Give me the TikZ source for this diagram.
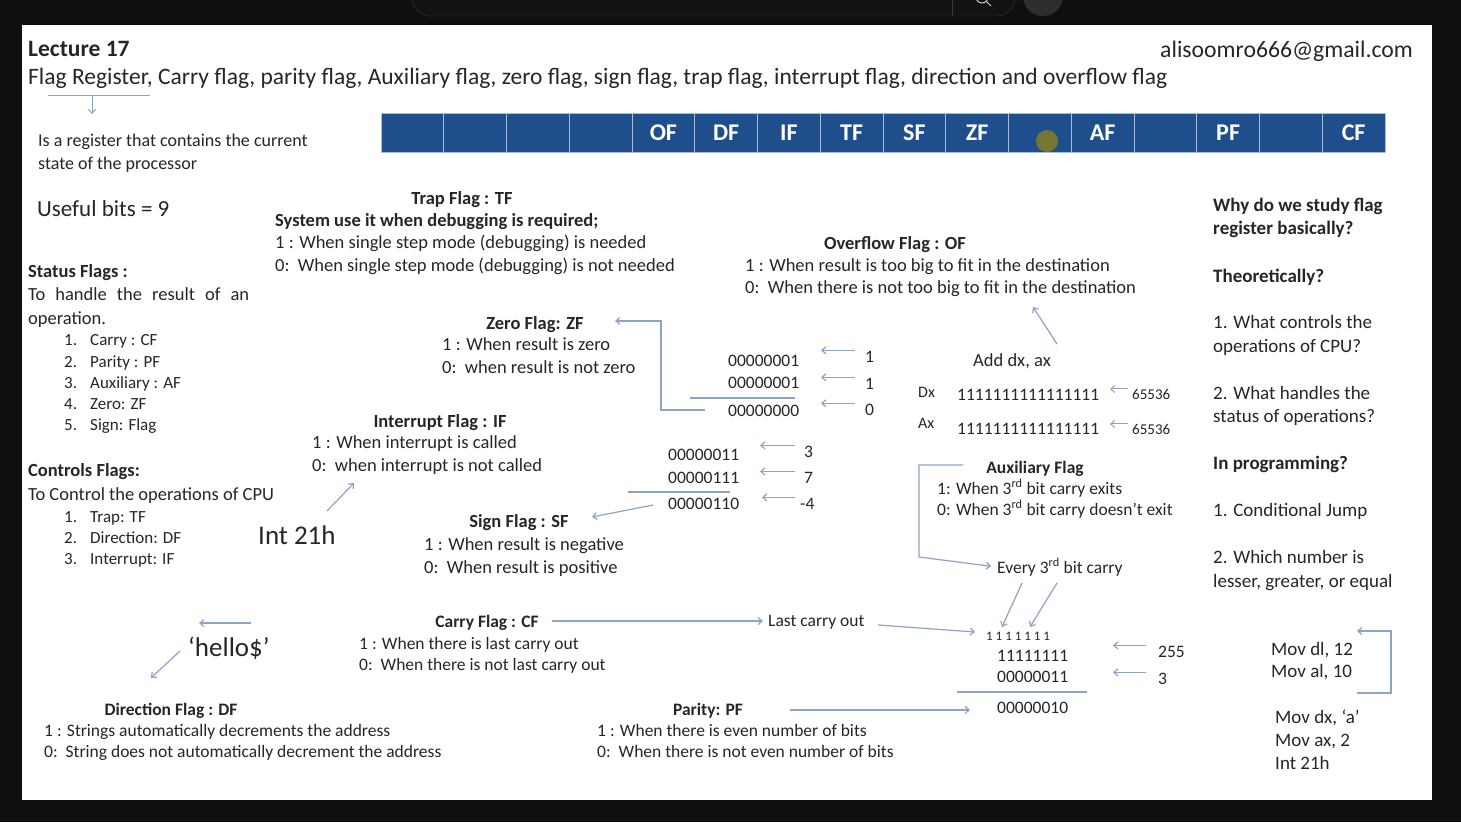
\documentclass[tikz,border=0pt]{standalone}
\usepackage{fontspec}
\setmainfont{Carlito}
\usetikzlibrary{arrows.meta}
\definecolor{ink}{HTML}{262626}
\definecolor{regblue}{HTML}{1F4E8C}
\definecolor{regline}{HTML}{A9BCDB}
\definecolor{arrowc}{HTML}{8EA3C6}
\definecolor{frame}{HTML}{0F0F0F}
\newcommand\fsz[1]{\fontsize{#1}{#1}\selectfont}
\tikzset{
  body/.style={inner sep=0pt, anchor=base west, text=ink, font=\fsz{18.5}},
  lower/.style={body, font=\fsz{17.5}},
  bits/.style={body, font=\fsz{17.5}},
  bhead/.style={body, font=\fsz{18.5}\bfseries},
  chead/.style={body, anchor=base, font=\fsz{18.5}\bfseries},
  rcol/.style={body, font=\fsz{19}},
  regcell/.style={draw=regline, line width=0.8pt, fill=regblue, minimum width=62.75pt,
    minimum height=39pt, inner sep=0pt, text=white, font=\fsz{24}\bfseries},
  conn/.style={draw=arrowc, line width=1.2pt, -{Straight Barb[length=4pt,width=7pt]}},
  plainline/.style={draw=arrowc, line width=1.2pt},
}
\begin{document}
\begin{tikzpicture}[x=1pt, y=-1pt]
\useasboundingbox (0,0) rectangle (1461,822);
% screen frame and slide
\fill[frame] (0,0) rectangle (1461,822);
\fill[white] (22,25) rectangle (1432,800);
% search bar above the slide
\draw[fill=black!93, draw=black!78, rounded corners=18pt] (412,-40) rectangle (1015,16);
\draw[black!78] (952,-40) -- (952,16);
\draw[white!80!black, line width=1pt] (982,-3) circle (6) (986,1) -- (991,6);
\fill[black!82] (1043,-4) circle (20);

% header
\node[bhead, font=\fsz{23.5}\bfseries] (lecture) at (28,56) {Lecture 17};
\node[body, anchor=base east, font=\fsz{23.7}] (email) at (1413,57) {alisoomro666@gmail.com};
\node[body, font=\fsz{23.5}] (title) at (28,84) {Flag Register, Carry flag, parity flag, Auxiliary flag, zero flag, sign flag, trap flag, interrupt flag, direction and overflow flag};
\coordinate (ul-a) at (48,95);
\coordinate (ul-b) at (150,95);
\coordinate (ul-c) at (92,96);
\coordinate (ul-d) at (92,114);
\draw[plainline, line width=1pt] (ul-a) -- (ul-b);
\draw[conn, line width=1pt] (ul-c) -- (ul-d);

% flag register
\foreach \lab [count=\i from 0] in {{},{},{},{},OF,DF,IF,TF,SF,ZF,{},AF,{},PF,{},CF}{
  \node[regcell] (cell\i) at ({381+62.75*\i+31.375},132.5) {\lab};
}
\fill[olive!75!black!90, opacity=0.9] (1047,141) circle (11);

% left column
\node[body, font=\fsz{18}] (def1) at (38,146) {Is a register that contains the current};
\node[body, font=\fsz{18}] (def2) at (38,169) {state of the processor};
\node[body, font=\fsz{23}] (useful) at (37,216) {Useful bits = 9};
\node[bhead] (status) at (28,277) {Status Flags :};
\node[body] (status1) at (28,300) {\makebox[221pt][s]{To handle the result of an}};
\node[body] (status2) at (28,324) {operation.};
\foreach \n/\t/\yy in {1/{Carry : CF}/345, 2/{Parity : PF}/367, 3/{Auxiliary : AF}/388, 4/{Zero: ZF}/409, 5/{Sign: Flag}/430}{
  \node[body, font=\fsz{17}] (sn\n) at (64,\yy) {\n.};
  \node[body, font=\fsz{17}] (st\n) at (90,\yy) {\t};
}
\node[bhead] (controls) at (28,476) {Controls Flags:};
\node[body] (controls1) at (28,500) {To Control the operations of CPU};
\foreach \n/\t/\yy in {1/{Trap: TF}/522, 2/{Direction: DF}/543, 3/{Interrupt: IF}/564}{
  \node[body, font=\fsz{17}] (cn\n) at (64,\yy) {\n.};
  \node[body, font=\fsz{17}] (ct\n) at (90,\yy) {\t};
}
\node[body, font=\fsz{27}] (int21) at (258,544) {Int 21h};
\coordinate (int-a) at (327,511);
\coordinate (int-b) at (354,483);
\draw[conn] (int-a) -- (int-b);
\node[body, font=\fsz{27}] (hello) at (188,656) {‘hello\$’};
\coordinate (hel-a) at (251,623);
\coordinate (hel-b) at (199,623);
\coordinate (hel-c) at (180,651);
\coordinate (hel-d) at (151,678);
\draw[conn] (hel-a) -- (hel-b);
\draw[conn] (hel-c) -- (hel-d);
\node[chead, font=\fsz{17.5}\bfseries] (dfhead) at (171,715) {Direction Flag : DF};
\node[lower] (df1) at (44,736) {1 : Strings automatically decrements the address};
\node[lower] (df0) at (44,757) {0:\ \ String does not automatically decrement the address};

% trap flag
\node[chead] (tfhead) at (462,204) {Trap Flag : TF};
\node[bhead] (tfsys) at (275,226) {System use it when debugging is required;};
\node[body] (tf1) at (275,248) {1 : When single step mode (debugging) is needed};
\node[body] (tf0) at (275,271) {0:\ \ When single step mode (debugging) is not needed};

% zero flag
\node[chead] (zfhead) at (535,329) {Zero Flag: ZF};
\node[body] (zf1) at (442,350) {1 : When result is zero};
\node[body] (zf0) at (442,373) {0:\ \ when result is not zero};
\node[bits] (za) at (728,366) {00000001};
\node[bits] (zb) at (728,388) {00000001};
\node[bits] (zr) at (728,416) {00000000};
\node[bits] (zav) at (865,362) {1};
\node[bits] (zbv) at (865,389) {1};
\node[bits] (zrv) at (865,415) {0};
\draw[conn] (zav.west) ++(-10,-6) coordinate (zav-t) -- ++(-34,0);
\draw[conn] (zbv.west) ++(-10,-6) coordinate (zbv-t) -- ++(-34,0);
\draw[conn] (zrv.west) ++(-10,-6) coordinate (zrv-t) -- ++(-34,0);
\coordinate (zsep-a) at (690,398);
\coordinate (zsep-b) at (795,398);
\draw[plainline] (zsep-a) -- (zsep-b);
\coordinate (zbr-a) at (705,410);
\coordinate (zbr-b) at (615,321);
\draw[conn] (zbr-a) -- (661,410) -- (661,321) -- (zbr-b);

% interrupt flag
\node[chead] (ifhead) at (440,427) {Interrupt Flag : IF};
\node[body] (if1) at (312,448) {1 : When interrupt is called};
\node[body] (if0) at (312,471) {0:\ \ when interrupt is not called};

% sign flag
\node[bits] (sa) at (668,460) {00000011};
\node[bits] (sb) at (668,483) {00000111};
\node[bits] (sr) at (668,509) {00000110};
\node[bits] (sav) at (804,457) {3};
\node[bits] (sbv) at (804,483) {7};
\node[bits] (srv) at (800,509) {-4};
\draw[conn] (sav.west) ++(-9,-6) -- ++(-35,0);
\draw[conn] (sbv.west) ++(-9,-6) -- ++(-35,0);
\draw[conn] (srv.west) ++(-5,-6) -- ++(-33,0);
\coordinate (ssep-a) at (628,492);
\coordinate (ssep-b) at (730,492);
\draw[plainline] (ssep-a) -- (ssep-b);
\coordinate (sf-a) at (653,505);
\coordinate (sf-b) at (592,517);
\draw[conn] (sf-a) -- (sf-b);
\node[chead] (sfhead) at (519,527) {Sign Flag : SF};
\node[body] (sf1) at (424,550) {1 : When result is negative};
\node[body] (sf0) at (424,573) {0:\ \ When result is positive};

% overflow flag
\node[chead] (ofhead) at (895,249) {Overflow Flag : OF};
\node[body] (of1) at (745,271) {1 : When result is too big to fit in the destination};
\node[body] (of0) at (745,293) {0:\ \ When there is not too big to fit in the destination};
\coordinate (of-a) at (1057,344);
\coordinate (of-b) at (1033,307);
\draw[conn] (of-a) -- (of-b);
\node[body] (adddx) at (973,366) {Add dx, ax};
\node[body, font=\fsz{16}] (dxl) at (918,397) {Dx};
\node[bits] (dxv) at (957,400) {1111111111111111};
\node[body, font=\fsz{15}] (dxn) at (1132,399) {65536};
\node[body, font=\fsz{16}] (axl) at (918,428) {Ax};
\node[bits] (axv) at (957,434) {1111111111111111};
\node[body, font=\fsz{15}] (axn) at (1132,434) {65536};
\draw[conn, line width=1pt] (dxn.west) ++(-4,-5) -- ++(-18,0);
\draw[conn, line width=1pt] (axn.west) ++(-4,-5) -- ++(-18,0);

% auxiliary flag
\node[chead, font=\fsz{17.5}\bfseries] (afhead) at (1035,473) {Auxiliary Flag};
\node[lower] (af1) at (937,494) {1: When 3\textsuperscript{rd} bit carry exits};
\node[lower] (af0) at (937,515) {0: When 3\textsuperscript{rd} bit carry doesn’t exit};
\node[lower] (every) at (997,573) {Every 3\textsuperscript{rd} bit carry};
\coordinate (afbr-a) at (963,465);
\draw[conn, shorten >=6pt] (afbr-a) -- (919,465) -- (919,557) -- (every.west);
\coordinate (ev-a) at (1022,583);
\coordinate (ev-b) at (1002,627);
\coordinate (ev-c) at (1057,583);
\coordinate (ev-d) at (1030,627);
\draw[conn] (ev-a) -- (ev-b);
\draw[conn] (ev-c) -- (ev-d);

% carry example
\node[body, font=\fsz{13}] (carries) at (986,640) {1 1 1 1 1 1 1};
\node[bits] (ca) at (997,661) {11111111};
\node[bits] (cb) at (997,682) {00000011};
\node[bits] (cr) at (997,713) {00000010};
\node[bits] (cav) at (1158,657) {255};
\node[bits] (cbv) at (1158,684) {3};
\draw[conn] (cav.west) ++(-12,-6) -- ++(-33,0);
\draw[conn] (cbv.west) ++(-12,-6) -- ++(-33,0);
\coordinate (csep-a) at (957,692);
\coordinate (csep-b) at (1087,692);
\draw[plainline] (csep-a) -- (csep-b);

% carry flag
\node[chead, font=\fsz{17.5}\bfseries] (cfhead) at (487,627) {Carry Flag : CF};
\node[lower] (cf1) at (359,649) {1 : When there is last carry out};
\node[lower] (cf0) at (359,670) {0:\ \ When there is not last carry out};
\node[lower] (lastco) at (768,626) {Last carry out};
\coordinate (cf-a) at (552,621);
\draw[conn, shorten >=5pt] (cf-a) -- (lastco.west |- cf-a);
\coordinate (lc-a) at (878,625);
\coordinate (lc-b) at (975,632);
\draw[conn] (lc-a) -- (lc-b);

% parity flag
\node[chead, font=\fsz{17.5}\bfseries] (pfhead) at (708,715) {Parity: PF};
\node[lower] (pf1) at (597,736) {1 : When there is even number of bits};
\node[lower] (pf0) at (597,757) {0:\ \ When there is not even number of bits};
\coordinate (pf-a) at (790,710);
\coordinate (pf-b) at (970,710);
\draw[conn] (pf-a) -- (pf-b);

% right column
\node[rcol, font=\fsz{19}\bfseries] (why1) at (1213,211) {Why do we study flag};
\node[rcol, font=\fsz{19}\bfseries] (why2) at (1213,234) {register basically?};
\node[rcol, font=\fsz{19}\bfseries] (theo) at (1213,282) {Theoretically?};
\node[rcol] (q1a) at (1213,328) {1. What controls the};
\node[rcol] (q1b) at (1213,352) {operations of CPU?};
\node[rcol] (q2a) at (1213,399) {2. What handles the};
\node[rcol] (q2b) at (1213,422) {status of operations?};
\node[rcol, font=\fsz{19}\bfseries] (prog) at (1213,469) {In programming?};
\node[rcol] (p1) at (1213,516) {1. Conditional Jump};
\node[rcol] (p2a) at (1213,563) {2. Which number is};
\node[rcol] (p2b) at (1213,587) {lesser, greater, or equal};
\node[rcol] (movdl) at (1271,655) {Mov dl, 12};
\node[rcol] (moval) at (1271,677) {Mov al, 10};
\coordinate (mv-a) at (1357,693);
\coordinate (mv-b) at (1357,631);
\draw[conn] (mv-a) -- (1391,693) -- (1391,631) -- (mv-b);
\node[rcol] (movdx) at (1275,723) {Mov dx, ‘a’};
\node[rcol] (movax) at (1275,746) {Mov ax, 2};
\node[rcol] (int21b) at (1275,769) {Int 21h};
\end{tikzpicture}
\end{document}
